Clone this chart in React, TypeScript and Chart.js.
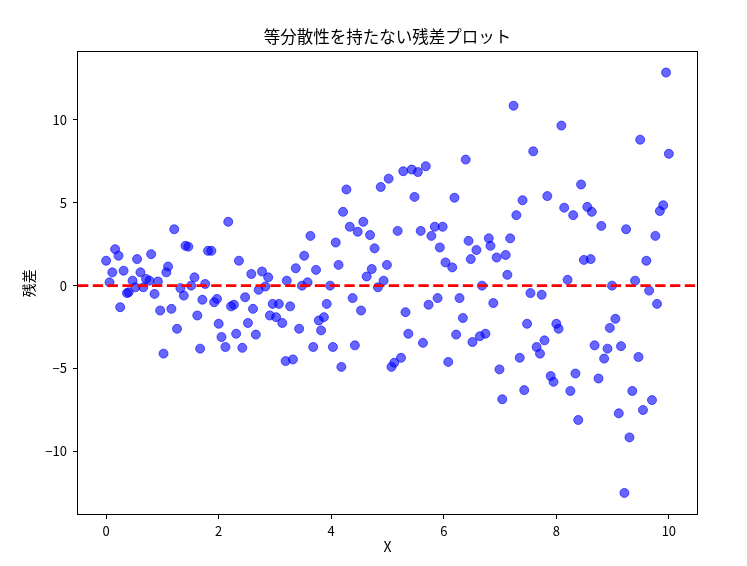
import React, { useEffect, useRef } from "react";
import { Chart, registerables } from "chart.js";

Chart.register(...registerables);

const titleText = "等分散性を持たない残差プロット";
const xLabel = "X";
const yLabel = "残差";

const xValues = [
  0.0, 0.06, 0.11, 0.16, 0.22, 0.25, 0.31, 0.37, 0.4, 0.47,
  0.52, 0.55, 0.61, 0.66, 0.71, 0.77, 0.8, 0.86, 0.92, 0.96,
  1.02, 1.07, 1.1, 1.16, 1.21, 1.26, 1.32, 1.38, 1.41, 1.46,
  1.51, 1.57, 1.62, 1.67, 1.71, 1.76, 1.81, 1.87, 1.92, 1.97,
  2.0, 2.05, 2.12, 2.17, 2.22, 2.27, 2.31, 2.36, 2.42, 2.47,
  2.52, 2.58, 2.61, 2.66, 2.71, 2.77, 2.83, 2.88, 2.91, 2.96,
  3.02, 3.07, 3.13, 3.19, 3.21, 3.27, 3.32, 3.37, 3.43, 3.48,
  3.52, 3.58, 3.63, 3.68, 3.73, 3.78, 3.82, 3.87, 3.92, 3.98,
  4.03, 4.08, 4.13, 4.18, 4.21, 4.27, 4.33, 4.38, 4.42, 4.47,
  4.53, 4.57, 4.63, 4.69, 4.72, 4.77, 4.83, 4.88, 4.93, 4.99,
  5.02, 5.07, 5.12, 5.18, 5.24, 5.28, 5.32, 5.37, 5.43, 5.48,
  5.54, 5.59, 5.63, 5.68, 5.73, 5.78, 5.84, 5.89, 5.93, 5.98,
  6.03, 6.08, 6.15, 6.19, 6.22, 6.28, 6.34, 6.39, 6.44, 6.48,
  6.51, 6.58, 6.64, 6.68, 6.74, 6.8, 6.83, 6.88, 6.94, 6.99,
  7.04, 7.1, 7.13, 7.18, 7.24, 7.29, 7.35, 7.4, 7.43, 7.48,
  7.54, 7.59, 7.65, 7.71, 7.74, 7.79, 7.84, 7.9, 7.95, 8.0,
  8.04, 8.09, 8.14, 8.2, 8.25, 8.3, 8.34, 8.39, 8.44, 8.49,
  8.55, 8.61, 8.63, 8.68, 8.75, 8.8, 8.85, 8.91, 8.95, 8.99,
  9.05, 9.11, 9.15, 9.21, 9.24, 9.3, 9.35, 9.4, 9.46, 9.49,
  9.54, 9.6, 9.65, 9.7, 9.76, 9.79, 9.84, 9.9, 9.95, 10.0,
];

const residuals = [
  1.5, 0.2, 0.8, 2.2, 1.8, -1.3, 0.9, -0.45, -0.4, 0.3,
  -0.1, 1.6, 0.8, -0.1, 0.4, 0.3, 1.9, -0.5, 0.25, -1.5,
  -4.1, 0.8, 1.15, -1.4, 3.4, -2.6, -0.15, -0.6, 2.4, 2.35,
  0.0, 0.5, -1.8, -3.8, -0.85, 0.1, 2.1, 2.1, -1.0, -0.8,
  -2.3, -3.1, -3.7, 3.85, -1.25, -1.15, -2.9, 1.5, -3.75, -0.7,
  -2.25, 0.7, -1.4, -2.95, -0.25, 0.85, -0.05, 0.5, -1.8, -1.1,
  -1.9, -1.1, -2.25, -4.55, 0.3, -1.25, -4.45, 1.05, -2.6, 0.0,
  1.8, 0.2, 3.0, -3.7, 0.95, -2.1, -2.7, -1.9, -1.1, 0.0,
  -3.7, 2.6, 1.25, -4.9, 4.45, 5.8, 3.55, -0.75, -3.6, 3.25,
  -1.5, 3.85, 0.55, 3.05, 1.0, 2.25, -0.1, 5.95, 0.3, 1.25,
  6.45, -4.9, -4.65, 3.3, -4.35, 6.9, -1.6, -2.9, 7.0, 5.35,
  6.85, 3.3, -3.45, 7.2, -1.15, 3.0, 3.55, -0.75, 2.3, 3.55,
  1.4, -4.6, 1.1, 5.3, -2.95, -0.75, -1.95, 7.6, 2.7, 1.6,
  -3.4, 2.15, -3.05, 0.0, -2.9, 2.85, 2.4, -1.05, 1.7, -5.05,
  -6.85, 1.85, 0.65, 2.85, 10.85, 4.25, -4.35, 5.15, -6.3, -2.3,
  -0.45, 8.1, -3.7, -4.1, -0.55, -3.3, 5.4, -5.45, -5.8, -2.3,
  -2.6, 9.65, 4.7, 0.35, -6.35, 4.25, -5.3, -8.1, 6.1, 1.55,
  4.75, 1.6, 4.45, -3.6, -5.6, 3.6, -4.4, -3.8, -2.55, 0.0,
  -2.0, -7.7, -3.65, -12.5, 3.4, -9.15, -6.35, 0.3, -4.3, 8.8,
  -7.5, 1.5, -0.3, -6.9, 3.0, -1.1, 4.5, 4.85, 12.85, 7.95,
];

const xTicks = [0, 2, 4, 6, 8, 10];
const yTicks = [-10, -5, 0, 5, 10];
const xLimits = [-0.5, 10.5];
const yLimits = [-13.77, 14.07];
const referenceY = 0;

const FONT = "'Noto Sans CJK JP', 'Noto Sans', sans-serif";

const framePlugin = {
  id: "frame",
  afterDraw(chart: any) {
    const { ctx, chartArea } = chart;
    ctx.save();
    ctx.strokeStyle = "#000";
    ctx.lineWidth = 1;
    ctx.strokeRect(
      Math.round(chartArea.left) - 0.5,
      Math.round(chartArea.top) - 0.5,
      Math.round(chartArea.right - chartArea.left) + 1,
      Math.round(chartArea.bottom - chartArea.top) + 1
    );
    ctx.restore();
  },
};

function fmt(v: number) {
  return v < 0 ? "\u2212" + Math.abs(v) : String(v);
}

export default function App() {
  const ref = useRef<HTMLCanvasElement | null>(null);

  useEffect(() => {
    document.body.style.margin = "0";
    const canvas = ref.current;
    if (!canvas) return;
    const points = xValues.map((x, i) => ({ x, y: residuals[i] }));
    const chart = new Chart(canvas, {
      type: "scatter",
      data: {
        datasets: [
          {
            type: "line",
            data: [
              { x: xLimits[0], y: referenceY },
              { x: xLimits[1], y: referenceY },
            ],
            borderColor: "#ff0000",
            borderWidth: 2.8,
            borderDash: [10.3, 4.5],
            pointRadius: 0,
            fill: false,
            showLine: true,
          } as any,
          {
            type: "scatter",
            data: points,
            pointRadius: 4.5,
            pointBorderWidth: 1,
            backgroundColor: "rgba(0,0,255,0.6)",
            borderColor: "rgba(0,0,255,0.6)",
          } as any,
        ],
      },
      options: {
        responsive: false,
        animation: false,
        layout: { padding: { left: 0, right: 50, top: 0, bottom: 0 } },
        plugins: {
          legend: { display: false },
          tooltip: { enabled: false },
          title: {
            display: true,
            fullSize: false,
            text: titleText,
            color: "#000",
            font: { family: FONT, size: 16.5, weight: "normal" },
            padding: { top: 27, bottom: 5.5 },
          },
        },
        scales: {
          x: {
            type: "linear",
            min: xLimits[0],
            max: xLimits[1],
            afterBuildTicks: (scale: any) => {
              scale.ticks = xTicks.map((v) => ({ value: v }));
            },
            afterFit: (scale: any) => {
              scale.height = 52;
            },
            ticks: {
              color: "#000",
              font: { family: FONT, size: 13 },
              padding: 4,
              maxRotation: 0,
              callback: (v: any) => fmt(Number(v)),
            },
            grid: {
              drawOnChartArea: false,
              drawTicks: true,
              tickLength: 5,
              color: "#000",
            },
            border: { display: false },
            title: {
              display: true,
              text: xLabel,
              color: "#000",
              font: { family: FONT, size: 14 },
              padding: { top: 0, bottom: 11 },
            },
          },
          y: {
            type: "linear",
            min: yLimits[0],
            max: yLimits[1],
            afterBuildTicks: (scale: any) => {
              scale.ticks = yTicks.map((v) => ({ value: v }));
            },
            afterFit: (scale: any) => {
              scale.width = 78;
            },
            ticks: {
              color: "#000",
              font: { family: FONT, size: 13 },
              padding: 6,
              callback: (v: any) => fmt(Number(v)),
            },
            grid: {
              drawOnChartArea: false,
              drawTicks: true,
              tickLength: 5,
              color: "#000",
            },
            border: { display: false },
            title: {
              display: true,
              text: yLabel,
              color: "#000",
              font: { family: FONT, size: 14 },
              padding: { top: 20, bottom: 0 },
            },
          },
        },
      },
      plugins: [framePlugin],
    } as any);
    return () => chart.destroy();
  }, []);

  return (
    <div style={{ position: "absolute", left: 0, top: 0, width: 747, height: 566 }}>
      <canvas ref={ref} width={747} height={566} style={{ display: "block" }} />
    </div>
  );
}
